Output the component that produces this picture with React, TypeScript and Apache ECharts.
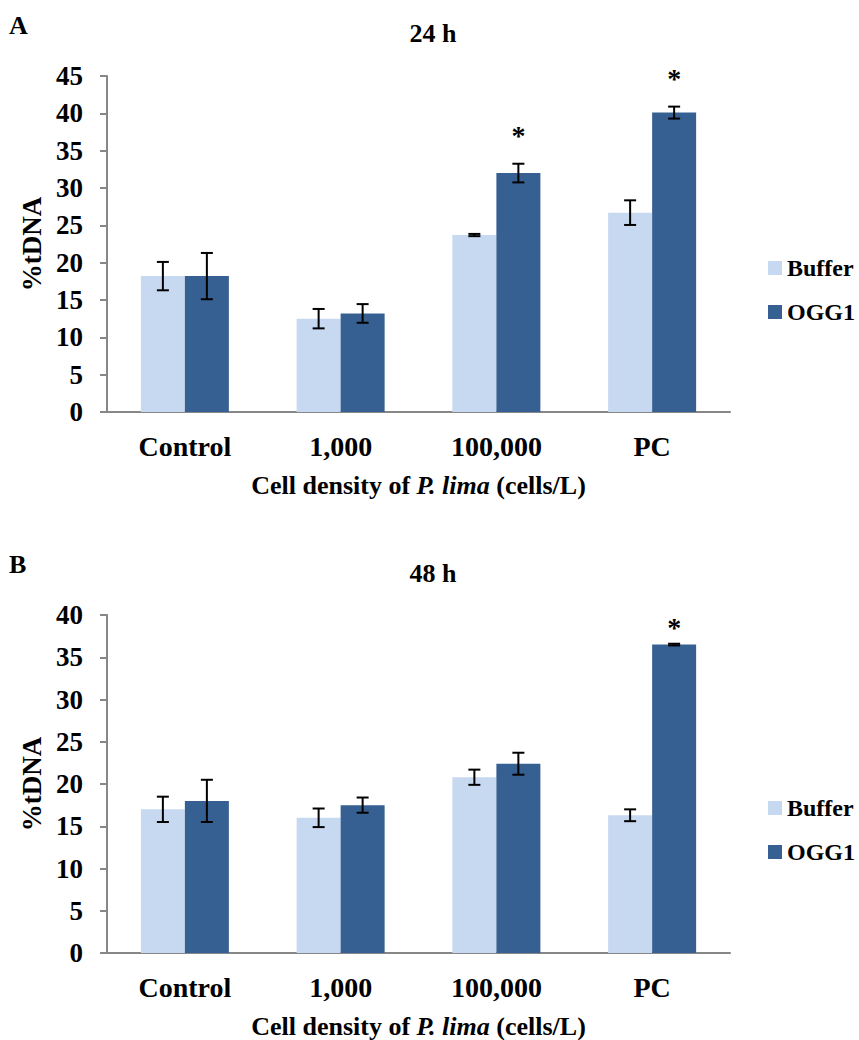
import React, { useEffect, useRef } from "react";
import * as echarts from "echarts";

const categories = ["Control", "1,000", "100,000", "PC"];
const seriesNames = ["Buffer", "OGG1"];

// 24 h panel
const buffer24 = [18.2, 12.5, 23.7, 26.7];
const bufferErr24 = [1.9, 1.3, 0.15, 1.65];
const ogg24 = [18.2, 13.2, 32.0, 40.1];
const oggErr24 = [3.1, 1.25, 1.25, 0.8];
const oggSig24 = [false, false, true, true];

// 48 h panel
const buffer48 = [17.0, 16.0, 20.8, 16.3];
const bufferErr48 = [1.5, 1.1, 0.9, 0.7];
const ogg48 = [18.0, 17.5, 22.4, 36.5];
const oggErr48 = [2.5, 0.9, 1.3, 0.1];
const oggSig48 = [false, false, false, true];

const yTicks24 = { min: 0, max: 45, interval: 5 };
const yTicks48 = { min: 0, max: 40, interval: 5 };

const FONT = '"Liberation Serif", "Times New Roman", serif';
const C_BUFFER = "#C6D9F1";
const C_OGG = "#376092";
const AXIS_C = "#878787";

function errSeries(values: number[], errs: number[], sig: boolean[], side: number, idx: number, starGap: number) {
  return {
    type: "custom",
    xAxisIndex: idx,
    yAxisIndex: idx,
    z: 10,
    silent: true,
    clip: false,
    data: values.map((v, i) => [i, v, errs[i], sig[i] ? 1 : 0]),
    encode: { x: 0, y: 1 },
    renderItem: (params: any, api: any) => {
      const cat = api.value(0);
      const v = api.value(1);
      const e = api.value(2);
      const s = api.value(3);
      const base = api.coord([cat, v]);
      const x = base[0] + side * 22;
      const top = api.coord([cat, v + e])[1];
      const bot = api.coord([cat, v - e])[1];
      const st = { stroke: "#000", lineWidth: 2 };
      const children: any[] = [
        { type: "line", shape: { x1: x, y1: top, x2: x, y2: bot }, style: st },
        { type: "line", shape: { x1: x - 6, y1: top, x2: x + 6, y2: top }, style: st },
        { type: "line", shape: { x1: x - 6, y1: bot, x2: x + 6, y2: bot }, style: st },
      ];
      if (s) {
        children.push({
          type: "text",
          x: x,
          y: top - starGap,
          style: {
            text: "*",
            font: `bold 28px ${FONT}`,
            fill: "#000",
            textAlign: "center",
            textVerticalAlign: "middle",
            align: "center",
            verticalAlign: "middle",
          },
        });
      }
      return { type: "group", children };
    },
  };
}

function xAxisFor(idx: number) {
  return {
    type: "category",
    gridIndex: idx,
    data: categories,
    axisLine: { lineStyle: { color: AXIS_C, width: 2 } },
    axisTick: { show: false },
    axisLabel: { color: "#000", fontFamily: FONT, fontWeight: "bold", fontSize: 28, margin: 20 },
    name: "{n|Cell density of }{i|P. lima}{n| (cells/L)}",
    nameLocation: "middle",
    nameGap: 60,
    nameTextStyle: {
      rich: {
        n: { fontFamily: FONT, fontWeight: "bold", fontSize: 26, color: "#000" },
        i: { fontFamily: FONT, fontWeight: "bold", fontStyle: "italic", fontSize: 26, color: "#000" },
      },
    },
  };
}

function yAxisFor(idx: number, t: { min: number; max: number; interval: number }) {
  return {
    type: "value",
    gridIndex: idx,
    min: t.min,
    max: t.max,
    interval: t.interval,
    splitLine: { show: false },
    axisLine: { show: true, lineStyle: { color: AXIS_C, width: 2 } },
    axisTick: { show: true, length: 7, lineStyle: { color: AXIS_C, width: 2 } },
    axisLabel: { color: "#000", fontFamily: FONT, fontWeight: "bold", fontSize: 27, margin: 24 },
    name: "%tDNA",
    nameLocation: "middle",
    nameGap: 53,
    nameTextStyle: { color: "#000", fontFamily: FONT, fontWeight: "bold", fontSize: 27 },
  };
}

function barSeries(name: string, values: number[], color: string, idx: number) {
  return {
    type: "bar",
    name,
    xAxisIndex: idx,
    yAxisIndex: idx,
    data: values,
    barWidth: 44,
    barGap: "0%",
    itemStyle: { color },
  };
}

function legendFor(top: number) {
  return {
    orient: "vertical",
    left: 763,
    top,
    data: seriesNames,
    icon: "rect",
    itemWidth: 14,
    itemHeight: 14,
    itemGap: 20,
    selectedMode: false,
    textStyle: { color: "#000", fontFamily: FONT, fontWeight: "bold", fontSize: 24, lineHeight: 24 },
  };
}

function textEl(text: string, x: number, y: number, size: number, align: string) {
  return {
    type: "text",
    x,
    y,
    style: {
      text,
      font: `bold ${size}px ${FONT}`,
      fill: "#000",
      textAlign: align,
      textVerticalAlign: "middle",
      align,
      verticalAlign: "middle",
    },
  };
}

export default function App() {
  const ref = useRef<HTMLDivElement>(null);
  useEffect(() => {
    if (!ref.current) return;
    const chart = echarts.init(ref.current, null, { renderer: "svg" });
    chart.setOption({
      animation: false,
      backgroundColor: "#fff",
      grid: [
        { left: 107, width: 623, top: 76, height: 336 },
        { left: 107, width: 623, top: 615, height: 338 },
      ],
      xAxis: [xAxisFor(0), xAxisFor(1)],
      yAxis: [yAxisFor(0, yTicks24), yAxisFor(1, yTicks48)],
      legend: [legendFor(251), legendFor(791)],
      graphic: [
        textEl("A", 9, 25, 26, "left"),
        textEl("24 h", 433, 33, 26, "center"),
        textEl("B", 9, 564, 26, "left"),
        textEl("48 h", 433, 573, 26, "center"),
      ],
      series: [
        barSeries("Buffer", buffer24, C_BUFFER, 0),
        barSeries("OGG1", ogg24, C_OGG, 0),
        errSeries(buffer24, bufferErr24, [false, false, false, false], -1, 0, 28),
        errSeries(ogg24, oggErr24, oggSig24, 1, 0, 28),
        barSeries("Buffer", buffer48, C_BUFFER, 1),
        barSeries("OGG1", ogg48, C_OGG, 1),
        errSeries(buffer48, bufferErr48, [false, false, false, false], -1, 1, 16),
        errSeries(ogg48, oggErr48, oggSig48, 1, 1, 16),
      ],
    });
    return () => chart.dispose();
  }, []);
  return (
    <div
      ref={ref}
      style={{ position: "fixed", left: 0, top: 0, width: 859, height: 1040, background: "#fff" }}
    />
  );
}
